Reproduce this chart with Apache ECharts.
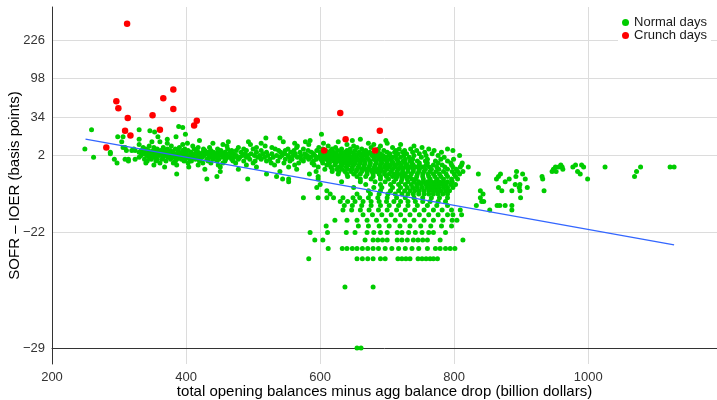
<!DOCTYPE html>
<html>
<head>
<meta charset="utf-8">
<script src="https://cdn.jsdelivr.net/npm/echarts@6/dist/echarts.min.js"></script>
<style>
  html, body { margin: 0; padding: 0; background: #fff; }
  #main { width: 717px; height: 400px; }
</style>
</head>
<body>
<div id="main"></div>
<script>
// y axis is drawn on log2(y + 30) so the tick labels are in basis points
var yTicks = [226, 98, 34, 2, -22, -29];
var xTicks = [200, 400, 600, 800, 1000];

// red points: [balance, spread]
var crunchDays = [
    [312, 313], [296, 55], [299, 45], [313, 33], [309, 20], [317, 16], [281, 7],
    [350, 36], [366, 60], [381, 75], [381, 44], [361, 21], [412, 25], [416, 30],
    [630, 39], [638, 13], [606, 5], [689, 20], [682, 5]
];

// green points, one row per spread value: [spread, [balances...]]
var normalRows = [
    [24, [389]],
    [23, [395]],
    [21, [259, 330]],
    [20, [346]],
    [19, [353]],
    [17, [399, 602]],
    [15, [298, 306, 358, 385]],
    [14, [519, 540]],
    [13, [330, 372, 660]],
    [12, [420, 585, 648, 698]],
    [11, [304, 349, 361, 463, 493, 545, 578, 627]],
    [10, [372, 402, 440, 512, 562, 605, 672, 700]],
    [9, [330, 395, 455, 496, 583, 640, 680, 720]],
    [8, [345, 378, 410, 461, 518, 566, 612, 650, 690, 740]],
    [7, [306, 309, 336, 352, 366, 390, 418, 435, 478, 505, 528, 565, 598, 623, 655, 676, 708, 752]],
    [6, [249, 322, 340, 357, 372, 384, 398, 412, 426, 447, 462, 486, 500, 533, 552, 575, 604, 618, 632, 645, 662, 687, 718, 735, 762, 790]],
    [5, [311, 319, 324, 333, 344, 351, 362, 369, 377, 388, 395, 403, 415, 428, 437, 452, 468, 475, 490, 512, 538, 548, 561, 582, 595, 608, 616, 626, 640, 652, 668, 682, 695, 713, 726, 744, 770, 798]],
    [4, [287, 330, 338, 347, 356, 365, 374, 380, 389, 397, 407, 418, 425, 433, 441, 448, 458, 466, 482, 505, 520, 541, 556, 570, 587, 600, 612, 620, 631, 637, 646, 658, 665, 674, 686, 700, 711, 723, 738, 756, 781]],
    [3, [287, 336, 343, 350, 358, 363, 371, 379, 385, 392, 400, 409, 414, 422, 430, 438, 445, 453, 460, 471, 488, 497, 515, 528, 547, 563, 577, 590, 603, 611, 618, 624, 633, 641, 650, 657, 663, 671, 679, 690, 704, 716, 729, 748, 767]],
    [2, [333, 341, 348, 354, 360, 368, 375, 383, 390, 398, 404, 411, 419, 427, 434, 442, 450, 457, 466, 475, 484, 493, 502, 510, 522, 535, 543, 552, 560, 571, 581, 592, 600, 608, 614, 621, 628, 636, 643, 651, 660, 668, 677, 685, 694, 703, 713, 725, 740, 758, 776, 808]],
    [1, [262, 330, 345, 352, 366, 373, 381, 388, 396, 402, 410, 417, 424, 436, 445, 455, 463, 472, 480, 490, 507, 517, 530, 540, 554, 566, 578, 586, 597, 604, 611, 617, 625, 632, 639, 647, 654, 662, 670, 681, 690, 698, 708, 720, 733, 751, 785]],
    [0, [293, 309, 314, 324, 338, 348, 357, 364, 377, 386, 393, 399, 406, 414, 421, 431, 440, 449, 459, 468, 478, 495, 512, 525, 548, 558, 572, 583, 594, 601, 609, 615, 622, 629, 635, 642, 649, 656, 664, 672, 680, 687, 695, 704, 714, 727, 738, 760, 780, 799]],
    [-1, [314, 342, 355, 370, 384, 397, 408, 420, 433, 446, 458, 470, 486, 503, 520, 537, 555, 575, 590, 603, 612, 620, 627, 634, 640, 646, 653, 659, 666, 674, 683, 691, 699, 707, 716, 724, 734, 745, 757, 772, 790]],
    [-2, [297, 340, 361, 381, 403, 425, 437, 455, 474, 500, 527, 546, 568, 588, 604, 614, 623, 631, 638, 645, 652, 660, 667, 675, 684, 692, 700, 709, 718, 727, 737, 748, 760, 776, 795, 812]],
    [-3, [352, 386, 418, 448, 490, 532, 562, 591, 610, 622, 633, 642, 650, 658, 666, 674, 682, 690, 698, 705, 713, 721, 730, 739, 748, 758, 769, 782, 796, 811, 959, 981, 990]],
    [-4, [368, 404, 451, 505, 553, 597, 616, 628, 639, 648, 657, 665, 673, 681, 689, 696, 703, 711, 719, 727, 735, 744, 753, 763, 774, 786, 798, 809, 821, 951, 956, 961, 977, 993, 1025, 1078, 1122, 1128]],
    [-5, [428, 478, 565, 607, 618, 625, 633, 641, 648, 655, 662, 668, 674, 680, 686, 691, 700, 708, 716, 723, 731, 739, 748, 757, 766, 777, 790, 803, 948, 962]],
    [-6, [451, 540, 594, 618, 628, 637, 646, 654, 662, 670, 677, 684, 690, 696, 706, 715, 723, 731, 739, 747, 755, 764, 773, 784, 797, 805, 813, 893, 946, 952, 984, 1072]],
    [-7, [386, 520, 584, 627, 640, 650, 660, 670, 679, 688, 696, 703, 710, 716, 722, 727, 736, 745, 753, 761, 769, 778, 788, 800, 808, 836, 869, 902, 988]],
    [-8, [446, 535, 597, 641, 655, 668, 679, 690, 699, 708, 715, 722, 728, 734, 744, 753, 762, 771, 780, 790, 802, 866, 892, 931, 1069]],
    [-9, [431, 492, 544, 553, 597, 660, 676, 690, 702, 713, 722, 730, 737, 743, 754, 764, 774, 784, 796, 805, 863, 882, 906, 932, 999]],
    [-10, [553, 632, 660, 682, 697, 710, 721, 731, 740, 747, 754, 760, 766, 772, 778, 784, 790, 797, 876]],
    [-11, [600, 668, 690, 705, 717, 727, 736, 744, 751, 758, 764, 770, 776, 782, 788, 795, 802, 891, 898]],
    [-12, [595, 650, 680, 692, 708, 720, 730, 738, 745, 752, 759, 765, 771, 777, 784, 790, 798, 866, 897, 909]],
    [-13, [610, 672, 690, 705, 717, 726, 734, 741, 748, 755, 762, 768, 774, 780, 787, 793, 839, 871, 886, 898, 934]],
    [-14, [615, 655, 675, 688, 701, 712, 722, 731, 739, 747, 755, 762, 769, 776, 783, 790, 843]],
    [-15, [575, 597, 610, 620, 634, 649, 659, 672, 686, 700, 714, 727, 740, 753, 766, 778, 790, 839, 899]],
    [-16, [630, 641, 652, 664, 676, 688, 699, 710, 720, 731, 742, 753, 764, 776, 787, 841, 844]],
    [-17, [636, 648, 662, 676, 690, 703, 717, 731, 745, 760, 774, 790, 833, 864, 868, 876, 886]],
    [-18, [634, 647, 660, 673, 687, 700, 714, 727, 741, 755, 769, 782, 796, 809, 853, 886]],
    [-19, [664, 678, 692, 706, 720, 734, 748, 762, 776, 790, 798, 811]],
    [-20, [622, 640, 655, 670, 684, 698, 712, 726, 740, 755, 769, 783, 797, 804]],
    [-21, [609, 657, 672, 688, 703, 719, 734, 750, 765, 781, 796]],
    [-22, [585, 611, 639, 652, 670, 680, 690, 700, 715, 722, 732, 742, 752, 762, 769, 787]],
    [-23, [592, 604, 667, 679, 686, 693, 700, 715, 722, 730, 739, 746, 753, 760, 779, 813]],
    [-24, [612, 633, 640, 648, 655, 663, 671, 679, 687, 697, 707, 717, 727, 737, 747, 760, 772, 779, 787, 794, 801]],
    [-25, [583, 655, 663, 671, 679, 690, 697, 716, 722, 728, 734, 746, 752, 758, 764, 769, 775]],
    [-27, [637, 679]],
    [-29, [655, 661]]
];

// fitted line end points (balance, spread)
var trendX = [250, 1128];
var trendY = [13.1, -23.6];

function tr(v) { return Math.log2(v + 30); }
function untr(v) { return Math.round(Math.pow(2, v) - 30); }

var normalData = [];
normalRows.forEach(function (row) {
    row[1].forEach(function (x) { normalData.push([x, tr(row[0])]); });
});
var crunchData = crunchDays.map(function (d) { return [d[0], tr(d[1])]; });
var trendData = trendX.map(function (x, i) { return [x, tr(trendY[i])]; });

var myChart = echarts.init(document.getElementById('main'));

var option = {
    animation: false,
    grid: { left: 52, right: 0, top: 7, bottom: 36, outerBoundsMode: 'none' },
    legend: {
        right: 6,
        top: 15,
        orient: 'vertical',
        itemGap: 0,
        itemWidth: 7,
        itemHeight: 7,
        padding: [1, 4],
        backgroundColor: '#fff',
        textStyle: { fontFamily: 'Liberation Sans', fontSize: 13, color: '#1a1a1a' },
        data: [
            { name: 'Normal days', icon: 'circle' },
            { name: 'Crunch days', icon: 'circle' }
        ]
    },
    xAxis: {
        type: 'value',
        min: 200,
        max: 1192,
        interval: 200,
        name: 'total opening balances minus agg balance drop (billion dollars)',
        nameLocation: 'middle',
        nameGap: 20,
        nameMoveOverlap: false,
        nameTextStyle: { fontFamily: 'Liberation Sans', fontSize: 15, color: '#000', verticalAlign: 'top' },
        axisLine: { show: true, lineStyle: { color: '#333', width: 1 } },
        axisTick: { show: false },
        axisLabel: {
            margin: 7,
            fontFamily: 'Liberation Sans', fontSize: 13, color: '#333',
            customValues: xTicks,
            formatter: function (v) { return String(v); }
        },
        splitLine: { show: true, lineStyle: { color: '#dcdcdc', width: 1 } }
    },
    yAxis: {
        type: 'value',
        min: -0.415,
        max: 8.86,
        name: 'SOFR \u2013 IOER (basis points)',
        nameLocation: 'middle',
        nameGap: 30,
        nameMoveOverlap: false,
        nameTextStyle: { fontFamily: 'Liberation Sans', fontSize: 15, color: '#000' },
        axisLine: { show: true, lineStyle: { color: '#333', width: 1 } },
        axisTick: { show: false, customValues: yTicks.map(tr) },
        axisLabel: {
            margin: 7,
            fontFamily: 'Liberation Sans', fontSize: 13, color: '#333',
            customValues: yTicks.map(tr),
            formatter: function (v) { return String(untr(v)).replace('-', '\u2212'); }
        },
        splitLine: { show: true, lineStyle: { color: '#dcdcdc', width: 1 } }
    },
    series: [
        {
            name: 'Normal days',
            type: 'scatter',
            symbolSize: 5,
            itemStyle: { color: '#00cc00', opacity: 1 },
            data: normalData
        },
        {
            name: 'fit',
            type: 'line',
            symbol: 'none',
            lineStyle: { color: '#3366ff', width: 1.2 },
            data: trendData
        },
        {
            name: 'Crunch days',
            type: 'scatter',
            symbolSize: 6.5,
            itemStyle: { color: '#ff0000', opacity: 1 },
            data: crunchData
        }
    ]
};

myChart.setOption(option);
</script>
</body>
</html>
